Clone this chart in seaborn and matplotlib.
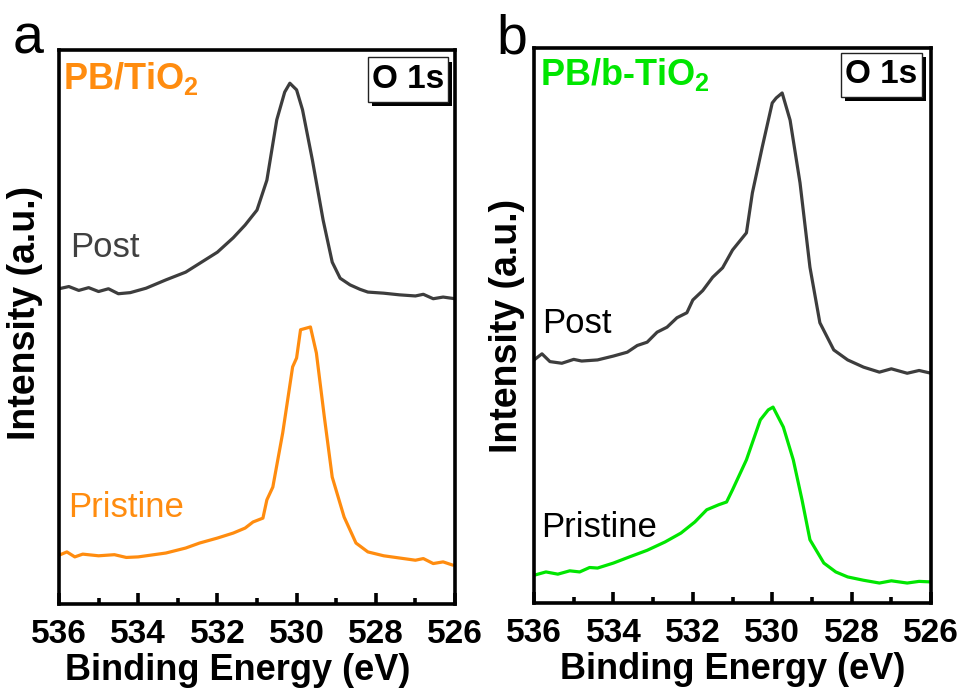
import numpy as np
import pandas as pd
import matplotlib
matplotlib.use("Agg")
import matplotlib.pyplot as plt
from matplotlib.patches import Rectangle
import seaborn as sns

# ---- O 1s spectra (binding energy in eV, intensity in a.u., offset stacked) ----
energy_a_post = [536.0, 535.75, 535.5, 535.25, 535.0, 534.75, 534.5, 534.2, 533.8, 533.3,
                 532.8, 532.4, 532.0, 531.6, 531.3, 531.0, 530.75, 530.5, 530.3, 530.17,
                 530.0, 529.85, 529.6, 529.33, 529.1, 528.9, 528.65, 528.4, 528.2, 527.8,
                 527.4, 527.0, 526.8, 526.55, 526.3, 526.0]
inten_a_post = [56.9, 57.3, 56.6, 57.1, 56.4, 56.9, 56.0, 56.2, 57.0, 58.5,
                59.9, 61.7, 63.5, 66.1, 68.4, 71.1, 76.5, 87.4, 92.4, 94.0,
                92.8, 89.2, 80.1, 69.3, 61.7, 58.8, 57.6, 56.8, 56.3, 56.1,
                55.8, 55.6, 55.9, 55.1, 55.4, 55.1]

energy_a_pris = [536.0, 535.8, 535.6, 535.4, 535.0, 534.6, 534.3, 534.0, 533.6, 533.3,
                 532.8, 532.45, 532.0, 531.6, 531.3, 531.1, 530.85, 530.75, 530.6, 530.35,
                 530.1, 530.0, 529.9, 529.65, 529.5, 529.3, 529.1, 528.8, 528.5, 528.2,
                 527.8, 527.4, 527.0, 526.8, 526.55, 526.3, 526.05]
inten_a_pris = [8.8, 9.4, 8.5, 9.0, 8.7, 8.9, 8.4, 8.5, 8.9, 9.2,
                10.1, 11.0, 11.9, 12.8, 13.7, 14.8, 15.5, 18.8, 21.1, 30.9,
                42.8, 44.4, 49.5, 50.0, 45.3, 33.8, 22.9, 15.7, 11.0, 9.4,
                8.7, 8.3, 7.9, 8.2, 7.3, 7.6, 7.0]

energy_b_post = [536.0, 535.8, 535.6, 535.3, 535.0, 534.8, 534.4, 534.0, 533.65, 533.4,
                 533.15, 532.9, 532.65, 532.4, 532.15, 532.0, 531.75, 531.5, 531.25, 531.0,
                 530.65, 530.5, 530.25, 530.0, 529.9, 529.75, 529.55, 529.3, 529.05, 528.8,
                 528.45, 528.1, 527.7, 527.3, 527.0, 526.6, 526.3, 526.0]
inten_b_post = [43.8, 44.9, 43.5, 43.2, 43.9, 43.6, 43.8, 44.5, 45.2, 46.4,
                47.0, 48.8, 49.7, 51.4, 52.3, 54.6, 56.3, 58.7, 60.4, 63.6,
                66.7, 73.9, 82.2, 90.1, 91.0, 91.9, 87.0, 75.7, 60.5, 50.5,
                45.6, 43.8, 42.5, 41.6, 42.2, 41.4, 41.9, 41.4]

energy_b_pris = [536.0, 535.7, 535.4, 535.1, 534.85, 534.6, 534.4, 534.0, 533.6, 533.15,
                 532.7, 532.3, 531.95, 531.65, 531.35, 531.15, 531.0, 530.65, 530.3, 530.1,
                 529.98, 529.72, 529.47, 529.25, 529.05, 528.7, 528.4, 528.1, 527.7, 527.3,
                 527.0, 526.6, 526.3, 526.0]
inten_b_pris = [5.0, 5.6, 5.2, 5.8, 5.6, 6.4, 6.3, 7.2, 8.3, 9.5,
                11.0, 12.6, 14.6, 16.8, 17.7, 18.2, 20.4, 25.8, 33.0, 34.8,
                35.3, 31.7, 25.8, 18.6, 11.4, 7.2, 5.6, 4.7, 4.1, 3.6,
                4.0, 3.6, 3.9, 3.8]

x_ticks = [536, 534, 532, 530, 528, 526]

GRAY = "#3d3d3d"
ORANGE = "#ff8c0f"
GREEN = "#00e600"

sns.set_style("white")
plt.rcParams["font.family"] = ["Liberation Sans", "DejaVu Sans"]
plt.rcParams["mathtext.fontset"] = "custom"
plt.rcParams["mathtext.rm"] = "Liberation Sans:bold"
plt.rcParams["mathtext.default"] = "rm"
plt.rcParams["text.color"] = "black"
plt.rcParams["axes.labelcolor"] = "black"
plt.rcParams["xtick.color"] = "black"
plt.rcParams["ytick.color"] = "black"

frames = []
for panel, series, e, i in [("a", "Post", energy_a_post, inten_a_post),
                            ("a", "Pristine", energy_a_pris, inten_a_pris),
                            ("b", "Post", energy_b_post, inten_b_post),
                            ("b", "Pristine", energy_b_pris, inten_b_pris)]:
    frames.append(pd.DataFrame({"panel": panel, "series": series,
                                "energy": e, "intensity": i}))
df = pd.concat(frames, ignore_index=True)

fig = plt.figure(figsize=(9.65, 6.96), dpi=100)
ax_a = fig.add_axes([0.0611, 0.1322, 0.4104, 0.796])
ax_b = fig.add_axes([0.5534, 0.1336, 0.4114, 0.7974])

panels = {
    "a": dict(ax=ax_a, color=ORANGE, title=r"PB/TiO$_2$", title_pos=(0.01, 0.93),
              post_color="#404040", post_pos=(0.028, 0.626), pris_color=ORANGE,
              pris_pos=(0.023, 0.157), box=(0.780, 0.906, 0.202, 0.081),
              ylab=(-0.04, 0.525), xlab=(0.452, -0.088)),
    "b": dict(ax=ax_b, color=GREEN, title=r"PB/b-TiO$_2$", title_pos=(0.015, 0.933),
              post_color="black", post_pos=(0.02, 0.486), pris_color="black",
              pris_pos=(0.018, 0.119), box=(0.773, 0.912, 0.204, 0.079),
              ylab=(-0.023, 0.50), xlab=(0.50, -0.088)),
}

for key, p in panels.items():
    ax = p["ax"]
    sub = df[df["panel"] == key]
    sns.lineplot(data=sub, x="energy", y="intensity", hue="series",
                 palette={"Post": GRAY, "Pristine": p["color"]},
                 sort=False, estimator=None, lw=2.3, legend=False, ax=ax)
    ax.set_xlim(536, 526)
    ax.set_ylim(0, 100)
    ax.set_xticks(x_ticks)
    ax.set_xticks([535, 533, 531, 529, 527], minor=True)
    ax.set_yticks([])
    ax.tick_params(axis="x", which="major", direction="in", length=8, width=2.6,
                   pad=11, labelsize=24, bottom=True, top=False)
    ax.tick_params(axis="x", which="minor", direction="in", length=4, width=2.6,
                   bottom=True, top=False)
    for lab in ax.get_xticklabels():
        lab.set_fontweight("bold")
    for s in ax.spines.values():
        s.set_linewidth(2.6)
        s.set_color("black")

    ax.set_xlabel("Binding Energy (eV)", fontsize=26, fontweight="bold")
    ax.xaxis.set_label_coords(*p["xlab"])
    ax.set_ylabel("Intensity (a.u.)", fontsize=27, fontweight="bold")
    ax.yaxis.set_label_coords(*p["ylab"])

    ax.text(*p["title_pos"], p["title"], transform=ax.transAxes, color=p["color"],
            fontsize=26, fontweight="bold", va="baseline", ha="left")
    ax.text(*p["post_pos"], "Post", transform=ax.transAxes, color=p["post_color"],
            fontsize=25, va="baseline", ha="left")
    ax.text(*p["pris_pos"], "Pristine", transform=ax.transAxes, color=p["pris_color"],
            fontsize=25, va="baseline", ha="left")

    # "O 1s" label in a framed box with a drop shadow
    bx, by, bw, bh = p["box"]
    ax.add_patch(Rectangle((bx + 0.010, by - 0.008), bw, bh, transform=ax.transAxes,
                           facecolor="black", edgecolor="none", zorder=5, clip_on=False))
    ax.add_patch(Rectangle((bx, by), bw, bh, transform=ax.transAxes,
                           facecolor="white", edgecolor="#222222", lw=1.0, zorder=6,
                           clip_on=False))
    ax.text(bx + bw / 2, by + bh / 2, "O 1s", transform=ax.transAxes, fontsize=24,
            fontweight="bold", ha="center", va="center", zorder=7)

fig.text(13 / 965, 1 - 53 / 696, "a", fontsize=40, va="baseline", ha="left")
fig.text(496 / 965, 1 - 53 / 696, "b", fontsize=40, va="baseline", ha="left")

fig.savefig("out.png", dpi=100, facecolor="white")
